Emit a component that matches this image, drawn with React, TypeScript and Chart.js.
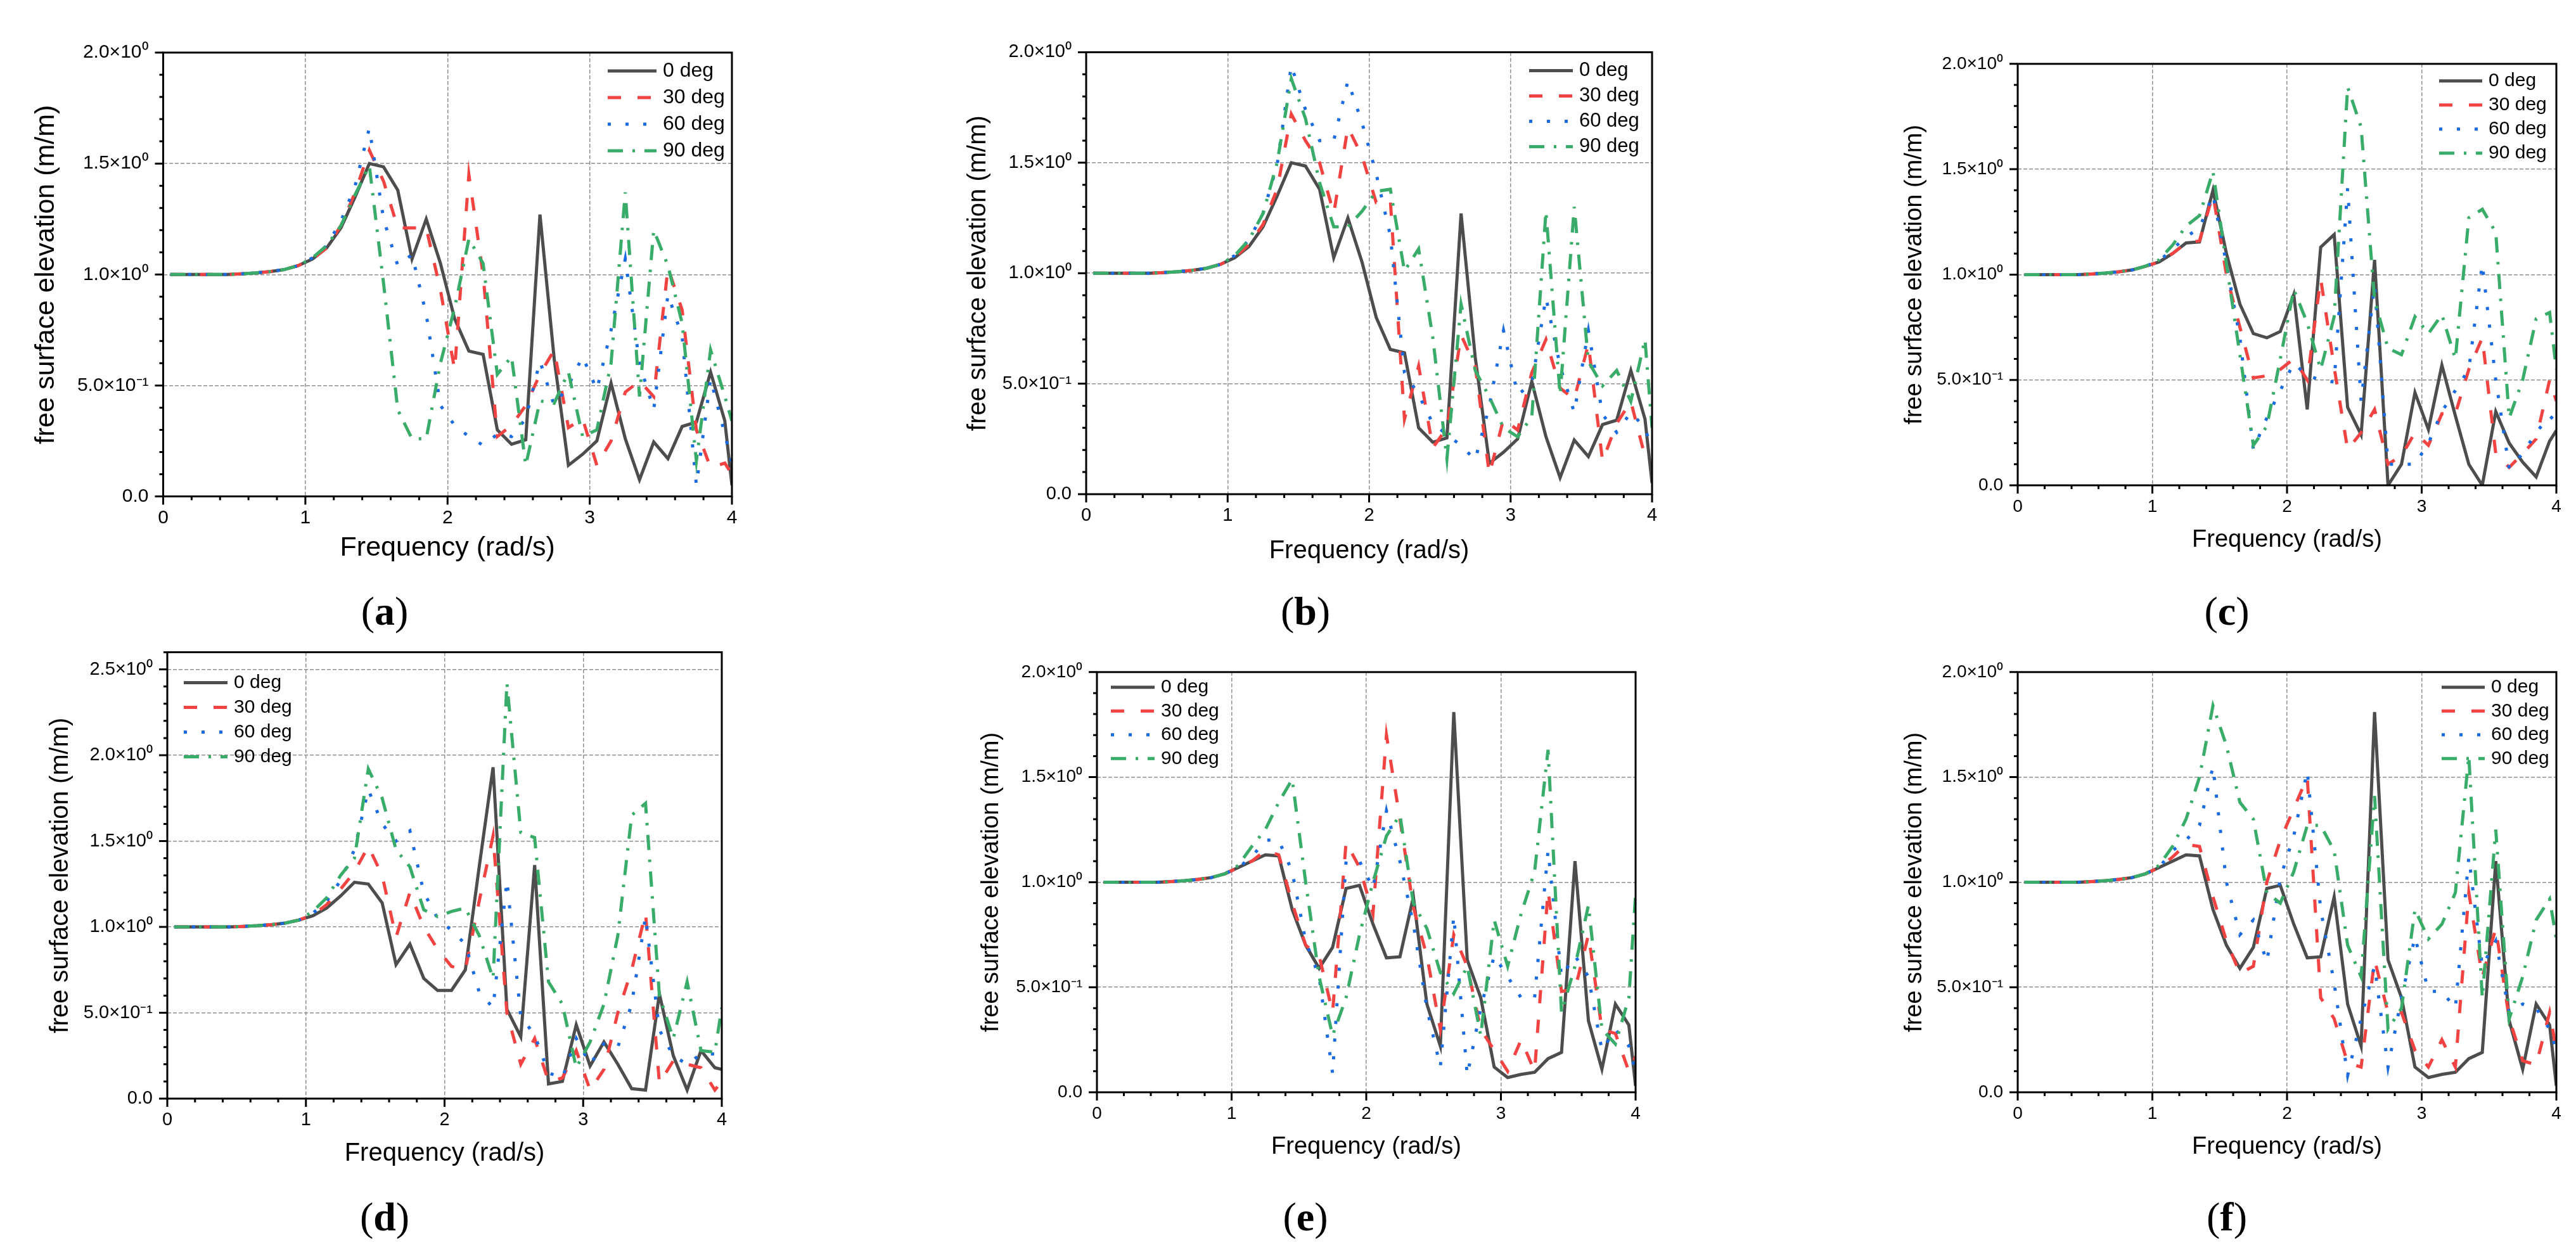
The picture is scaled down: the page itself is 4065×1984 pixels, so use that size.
import React, { useEffect, useRef } from "react";
import { Chart, registerables } from "chart.js";

Chart.register(...registerables);

// frequency samples (rad/s), shared by every panel
const freq = [
  0.05, 0.15, 0.25, 0.35, 0.45, 0.55, 0.65, 0.75, 0.85, 0.95,
  1.05, 1.15, 1.25, 1.35, 1.45, 1.55, 1.65, 1.75, 1.85, 1.95,
  2.05, 2.15, 2.25, 2.35, 2.45, 2.55, 2.65, 2.75, 2.85, 2.95,
  3.05, 3.15, 3.25, 3.35, 3.45, 3.55, 3.65, 3.75, 3.85, 3.95,
  4.0,
];

const seriesLabels = ["0 deg", "30 deg", "60 deg", "90 deg"];

const xTicks = [0, 1, 2, 3, 4];
const xTickLabels = ["0", "1", "2", "3", "4"];
const yTicks = [0, 0.5, 1, 1.5, 2];
const yTickLabels = ["0.0", "5.0×10⁻¹", "1.0×10⁰", "1.5×10⁰", "2.0×10⁰"];
const yTicksD = [0, 0.5, 1, 1.5, 2, 2.5];
const yTickLabelsD = ["0.0", "5.0×10⁻¹", "1.0×10⁰", "1.5×10⁰", "2.0×10⁰", "2.5×10⁰"];

// (a) and (b) share the 0 deg curve
const abDeg0 = [1, 1, 1, 1, 1, 1.003, 1.007, 1.013, 1.022, 1.04,
  1.07, 1.12, 1.21, 1.35, 1.5, 1.485, 1.38, 1.07, 1.25, 1.05,
  0.8, 0.655, 0.64, 0.3, 0.235, 0.255, 1.27, 0.62, 0.14, 0.19,
  0.25, 0.51, 0.26, 0.075, 0.245, 0.17, 0.315, 0.335, 0.56, 0.34, 0.05];
const a30 = [1, 1, 1, 1, 1, 1.003, 1.007, 1.013, 1.022, 1.04,
  1.07, 1.12, 1.22, 1.37, 1.56, 1.42, 1.21, 1.21, 1.21, 0.93,
  0.57, 1.45, 1.0, 0.27, 0.32, 0.41, 0.55, 0.66, 0.31, 0.35,
  0.14, 0.25, 0.47, 0.52, 0.45, 1.03, 0.84, 0.3, 0.13, 0.15, 0.1];
const a60 = [1, 1, 1, 1, 1, 1.003, 1.007, 1.013, 1.022, 1.04,
  1.075, 1.13, 1.24, 1.4, 1.66, 1.25, 1.04, 1.09, 0.82, 0.41,
  0.32, 0.27, 0.23, 0.28, 0.27, 0.35, 0.61, 0.41, 0.5, 0.63,
  0.48, 0.75, 1.07, 0.6, 0.39, 0.91, 0.72, 0.05, 0.53, 0.28, 0.15];
const a90 = [1, 1, 1, 1, 1, 1.003, 1.007, 1.013, 1.022, 1.04,
  1.075, 1.13, 1.22, 1.36, 1.49, 0.96, 0.39, 0.26, 0.26, 0.6,
  0.85, 1.16, 1.05, 0.55, 0.63, 0.14, 0.43, 0.42, 0.56, 0.27,
  0.3, 0.6, 1.37, 0.45, 1.2, 1.04, 0.78, 0.16, 0.66, 0.45, 0.34];

const b30 = [1, 1, 1, 1, 1, 1.003, 1.007, 1.013, 1.022, 1.04,
  1.07, 1.13, 1.22, 1.38, 1.72, 1.6, 1.5, 1.27, 1.66, 1.53,
  1.32, 1.33, 0.34, 0.58, 0.21, 0.3, 0.72, 0.58, 0.09, 0.34,
  0.29, 0.55, 0.7, 0.48, 0.43, 0.68, 0.15, 0.32, 0.42, 0.17, 0.15];
const b60 = [1, 1, 1, 1, 1, 1.003, 1.007, 1.013, 1.022, 1.04,
  1.08, 1.15, 1.27, 1.49, 1.94, 1.74, 1.6, 1.6, 1.87, 1.68,
  1.45, 1.17, 0.55, 0.45, 0.32, 0.27, 0.22, 0.155, 0.4, 0.74,
  0.45, 0.5, 0.89, 0.58, 0.37, 0.74, 0.36, 0.28, 0.37, 0.3, 0.2];
const b90 = [1, 1, 1, 1, 1, 1.003, 1.007, 1.013, 1.022, 1.04,
  1.08, 1.15, 1.27, 1.5, 1.88, 1.7, 1.41, 1.21, 1.21, 1.28,
  1.37, 1.38, 1.01, 1.11, 0.71, 0.16, 0.86, 0.56, 0.44, 0.3,
  0.26, 0.35, 1.28, 0.45, 1.3, 0.6, 0.49, 0.56, 0.42, 0.7, 0.3];

const c0 = [1, 1, 1, 1, 1, 1.003, 1.007, 1.013, 1.022, 1.04,
  1.06, 1.1, 1.15, 1.155, 1.4, 1.1, 0.86, 0.72, 0.7, 0.73,
  0.905, 0.36, 1.13, 1.19, 0.37, 0.24, 1.07, 0.0, 0.1, 0.44,
  0.265, 0.57, 0.33, 0.1, 0.0, 0.35, 0.2, 0.11, 0.04, 0.21, 0.26];
const c30 = [1, 1, 1, 1, 1, 1.003, 1.007, 1.013, 1.022, 1.04,
  1.06, 1.1, 1.15, 1.16, 1.38, 1.0, 0.75, 0.51, 0.52, 0.55,
  0.6, 0.5, 0.98, 0.56, 0.17, 0.25, 0.36, 0.1, 0.14, 0.25,
  0.19, 0.34, 0.34, 0.55, 0.7, 0.15, 0.085, 0.15, 0.22, 0.5, 0.4];
const c60 = [1, 1, 1, 1, 1, 1.003, 1.007, 1.013, 1.022, 1.04,
  1.065, 1.12, 1.18, 1.22, 1.38, 1.05, 0.7, 0.17, 0.32, 0.45,
  0.58, 0.52, 0.5, 0.49, 1.41, 0.4, 0.95, 0.1, 0.1, 0.1,
  0.2, 0.35, 0.45, 0.55, 1.05, 0.5, 0.08, 0.15, 0.25, 0.33, 0.3];
const c90 = [1, 1, 1, 1, 1, 1.003, 1.007, 1.013, 1.022, 1.04,
  1.07, 1.14, 1.23, 1.28, 1.49, 1.05, 0.62, 0.19, 0.28, 0.6,
  0.93, 0.77, 0.55, 0.8, 1.89, 1.7, 0.88, 0.65, 0.62, 0.8,
  0.72, 0.81, 0.6, 1.27, 1.31, 1.2, 0.32, 0.5, 0.79, 0.82, 0.55];

const d0 = [1, 1, 1, 1, 1, 1.003, 1.007, 1.013, 1.022, 1.04,
  1.065, 1.11, 1.18, 1.26, 1.25, 1.14, 0.78, 0.9, 0.7, 0.63,
  0.63, 0.75, 1.35, 1.93, 0.52, 0.36, 1.36, 0.086, 0.1, 0.43,
  0.19, 0.33, 0.2, 0.058, 0.05, 0.61, 0.25, 0.05, 0.28, 0.18, 0.17];
const d30 = [1, 1, 1, 1, 1, 1.003, 1.007, 1.013, 1.022, 1.04,
  1.07, 1.13, 1.22, 1.32, 1.47, 1.3, 0.94, 1.2, 1.0, 0.87,
  0.77, 0.75, 1.15, 1.53, 0.5, 0.2, 0.35, 0.1, 0.12, 0.28,
  0.05, 0.17, 0.5, 0.75, 1.08, 0.09, 0.22, 0.2, 0.18, 0.05, 0.1];
const d60 = [1, 1, 1, 1, 1, 1.003, 1.007, 1.013, 1.022, 1.04,
  1.08, 1.15, 1.27, 1.45, 1.8, 1.6, 1.5, 1.56, 1.2, 1.05,
  0.98, 0.9, 0.62, 0.53, 1.27, 0.48, 0.37, 0.15, 0.12, 0.35,
  0.2, 0.32, 0.3, 0.55, 1.06, 0.4, 0.25, 0.2, 0.26, 0.26, 0.25];
const d90 = [1, 1, 1, 1, 1, 1.003, 1.007, 1.013, 1.022, 1.04,
  1.09, 1.17, 1.3, 1.4, 1.92, 1.75, 1.45, 1.35, 1.1, 1.06,
  1.09, 1.11, 0.95, 0.7, 2.42, 1.55, 1.52, 0.68, 0.55, 0.18,
  0.33, 0.55, 0.95, 1.65, 1.72, 0.6, 0.35, 0.68, 0.28, 0.27, 0.53];

// (e) and (f) share the 0 deg curve
const efDeg0 = [1, 1, 1, 1, 1, 1.003, 1.007, 1.013, 1.022, 1.04,
  1.07, 1.1, 1.13, 1.125, 0.87, 0.7, 0.59, 0.69, 0.97, 0.985,
  0.8, 0.64, 0.645, 0.93, 0.42, 0.22, 1.81, 0.63, 0.45, 0.12,
  0.07, 0.085, 0.095, 0.16, 0.19, 1.1, 0.34, 0.11, 0.42, 0.32, 0.03];
const e30 = [1, 1, 1, 1, 1, 1.003, 1.007, 1.013, 1.022, 1.04,
  1.07, 1.1, 1.15, 1.13, 0.9, 0.7, 0.65, 0.38, 1.19, 1.07,
  0.85, 1.7, 1.3, 0.88, 0.65, 0.3, 0.75, 0.6, 0.3, 0.2,
  0.1, 0.25, 0.1, 0.96, 0.48, 0.49, 0.75, 0.3, 0.28, 0.1, 0.17];
const e60 = [1, 1, 1, 1, 1, 1.003, 1.007, 1.013, 1.022, 1.04,
  1.07, 1.12, 1.2, 1.2, 1.05, 0.72, 0.55, 0.09, 1.1, 1.1,
  0.97, 1.34, 1.1, 0.8, 0.4, 0.12, 0.84, 0.08, 0.4, 0.65,
  0.55, 0.45, 0.45, 1.15, 0.55, 0.65, 0.55, 0.2, 0.3, 0.22, 0.1];
const e90 = [1, 1, 1, 1, 1, 1.003, 1.007, 1.013, 1.022, 1.04,
  1.08, 1.17, 1.25, 1.38, 1.49, 1.0, 0.55, 0.27, 0.45, 0.75,
  1.0, 1.22, 1.32, 0.9, 0.78, 0.57, 0.47, 0.6, 0.27, 0.82,
  0.6, 0.85, 1.05, 1.63, 0.38, 0.6, 0.89, 0.3, 0.23, 0.45, 0.94];

const f30 = [1, 1, 1, 1, 1, 1.003, 1.007, 1.013, 1.022, 1.04,
  1.07, 1.12, 1.18, 1.17, 0.93, 0.72, 0.565, 0.6, 1.0, 1.2,
  1.35, 1.5, 0.45, 0.35, 0.14, 0.12, 0.63, 0.38, 0.38, 0.2,
  0.12, 0.25, 0.12, 0.95, 0.55, 0.78, 0.35, 0.15, 0.13, 0.38, 0.2];
const f60 = [1, 1, 1, 1, 1, 1.003, 1.007, 1.013, 1.022, 1.04,
  1.07, 1.15, 1.2, 1.27, 1.55, 1.0, 0.75, 0.82, 0.62, 1.02,
  1.22, 1.53, 0.87, 0.52, 0.08, 0.35, 0.6, 0.12, 0.45, 0.74,
  0.48, 0.48, 0.4, 1.12, 0.6, 0.72, 0.38, 0.42, 0.4, 0.3, 0.2];
const f90 = [1, 1, 1, 1, 1, 1.003, 1.007, 1.013, 1.022, 1.04,
  1.08, 1.17, 1.3, 1.5, 1.84, 1.65, 1.38, 1.3, 0.95, 0.9,
  1.05, 1.27, 1.27, 1.15, 0.7, 0.55, 1.41, 0.3, 0.4, 0.87,
  0.73, 0.8, 0.95, 1.6, 0.45, 1.25, 0.35, 0.55, 0.82, 0.92, 0.73];

const COLORS = ["#4d4d4d", "#f24343", "#1a6be0", "#38ac68"];
const LINE_DASH = [[], [21, 26], [5, 23], [24, 15, 4, 15]];
const LINE_W = 5;
const SANS = '"Liberation Sans", Arial, Helvetica, sans-serif';

const PAD_T = 30;
const PAD_R = 30;

const panels = [
  { tag: "a", series: [abDeg0, a30, a60, a90], yMax: 2, yT: yTicks, yL: yTickLabels,
    L: 257, T: 72, R: 1154, B: 783, yTitleX: 73, xTitleY: 865, titleSize: 43, tickSize: 30,
    legend: { side: "right", dx: 196, dy: 29, gap: 42, len: 77, size: 32 }, tx: 607, ty: 965 },
  { tag: "b", series: [abDeg0, b30, b60, b90], yMax: 2, yT: yTicks, yL: yTickLabels,
    L: 1714, T: 72, R: 2607, B: 780, yTitleX: 1544, xTitleY: 870, titleSize: 40, tickSize: 29,
    legend: { side: "right", dx: 194, dy: 29, gap: 40, len: 69, size: 31 }, tx: 2060, ty: 965 },
  { tag: "c", series: [c0, c30, c60, c90], yMax: 2, yT: yTicks, yL: yTickLabels,
    L: 3184, T: 91, R: 4034, B: 766, yTitleX: 3022, xTitleY: 853, titleSize: 38, tickSize: 28,
    legend: { side: "right", dx: 185, dy: 27, gap: 38, len: 68, size: 30 }, tx: 3514, ty: 965 },
  { tag: "d", series: [d0, d30, d60, d90], yMax: 2.6, yT: yTicksD, yL: yTickLabelsD,
    L: 264, T: 1019, R: 1139, B: 1734, yTitleX: 96, xTitleY: 1821, titleSize: 40, tickSize: 29,
    legend: { side: "left", dx: 26, dy: 48, gap: 39, len: 69, size: 30 }, tx: 607, ty: 1921 },
  { tag: "e", series: [efDeg0, e30, e60, e90], yMax: 2, yT: yTicks, yL: yTickLabels,
    L: 1731, T: 1051, R: 2581, B: 1724, yTitleX: 1565, xTitleY: 1811, titleSize: 38, tickSize: 28,
    legend: { side: "left", dx: 22, dy: 24, gap: 37.5, len: 69, size: 30 }, tx: 2060, ty: 1921 },
  { tag: "f", series: [efDeg0, f30, f60, f90], yMax: 2, yT: yTicks, yL: yTickLabels,
    L: 3184, T: 1051, R: 4034, B: 1724, yTitleX: 3022, xTitleY: 1811, titleSize: 38, tickSize: 28,
    legend: { side: "right", dx: 181, dy: 24, gap: 37.5, len: 68, size: 30 }, tx: 3514, ty: 1921 },
];

// frame, outward tick marks and the in-plot legend
const decoPlugin = {
  id: "deco",
  afterDraw(chart: any, _args: any, opts: any) {
    const { ctx, chartArea: a, scales } = chart;
    const xs = scales.x;
    const ys = scales.y;
    ctx.save();
    ctx.strokeStyle = "#000";
    ctx.lineWidth = 3;
    ctx.setLineDash([]);
    ctx.beginPath();
    for (let i = 0; i <= 20; i++) {
      const px = xs.getPixelForValue(i * 0.2);
      ctx.moveTo(px, a.bottom);
      ctx.lineTo(px, a.bottom + (i % 5 === 0 ? 13 : 6));
    }
    const n = Math.floor(ys.max * 10 + 1e-6);
    for (let i = 0; i <= n; i++) {
      const py = ys.getPixelForValue(i * 0.1);
      ctx.moveTo(a.left, py);
      ctx.lineTo(a.left - (i % 5 === 0 ? 13 : 6), py);
    }
    ctx.stroke();
    ctx.strokeRect(a.left, a.top, a.right - a.left, a.bottom - a.top);

    const lg = opts.legend;
    chart.data.datasets.forEach((ds: any, i: number) => {
      const y = a.top + lg.dy + i * lg.gap;
      const x0 = lg.side === "right" ? a.right - lg.dx : a.left + lg.dx;
      ctx.beginPath();
      ctx.setLineDash(LINE_DASH[i]);
      ctx.lineWidth = LINE_W;
      ctx.lineCap = "butt";
      ctx.strokeStyle = ds.borderColor;
      ctx.moveTo(x0, y);
      ctx.lineTo(x0 + lg.len, y);
      ctx.stroke();
      ctx.setLineDash([]);
      ctx.fillStyle = "#000";
      ctx.font = `${lg.size}px ${SANS}`;
      ctx.textAlign = "left";
      ctx.textBaseline = "middle";
      ctx.fillText(ds.label, x0 + lg.len + 10, y);
    });
    ctx.restore();
  },
};

function Panel({ p }: { p: any }) {
  const ref = useRef<HTMLCanvasElement | null>(null);
  const yW = p.L - p.yTitleX + p.titleSize / 2;
  const xH = p.xTitleY - p.B + p.titleSize / 2;
  const left = p.L - yW;
  const top = p.T - PAD_T;
  const width = Math.round(yW + (p.R - p.L) + PAD_R);
  const height = Math.round(PAD_T + (p.B - p.T) + xH);

  useEffect(() => {
    if (!ref.current) return;
    const tickFont = { family: SANS, size: p.tickSize };
    const titleFont = { family: SANS, size: p.titleSize, lineHeight: 1 };
    const chart = new Chart(ref.current, {
      type: "line",
      data: {
        datasets: p.series.map((s: number[], i: number) => ({
          label: seriesLabels[i],
          data: freq.map((f, k) => ({ x: f, y: s[k] })),
          borderColor: COLORS[i],
          backgroundColor: COLORS[i],
          borderWidth: LINE_W,
          borderDash: LINE_DASH[i],
          borderCapStyle: "butt",
          pointRadius: 0,
          tension: 0,
          fill: false,
          order: 3 - i,
        })),
      },
      options: {
        responsive: false,
        animation: false,
        devicePixelRatio: 1,
        layout: { padding: { top: PAD_T, right: PAD_R, left: 0, bottom: 0 } },
        plugins: {
          legend: { display: false },
          tooltip: { enabled: false },
          deco: { legend: p.legend },
        } as any,
        scales: {
          x: {
            type: "linear",
            min: 0,
            max: 4,
            afterBuildTicks: (s: any) => {
              s.ticks = xTicks.map((v) => ({ value: v }));
            },
            afterFit: (s: any) => {
              s.height = xH;
            },
            ticks: {
              font: tickFont,
              color: "#000",
              padding: 34 - p.tickSize * 0.6,
              maxRotation: 0,
              autoSkip: false,
              callback: (v: any) => xTickLabels[xTicks.indexOf(Number(v))] ?? "",
            },
            grid: {
              drawTicks: false,
              lineWidth: 1.5,
              color: (c: any) =>
                c.tick && (c.tick.value === 0 || c.tick.value === 4) ? "rgba(0,0,0,0)" : "#8f8f8f",
            },
            border: { display: false, dash: [6, 3] },
            title: { display: true, text: "Frequency (rad/s)", font: titleFont, color: "#000", padding: 0 },
          },
          y: {
            type: "linear",
            min: 0,
            max: p.yMax,
            afterBuildTicks: (s: any) => {
              s.ticks = p.yT.map((v: number) => ({ value: v }));
            },
            afterFit: (s: any) => {
              s.width = yW;
            },
            ticks: {
              font: tickFont,
              color: "#000",
              padding: 23,
              autoSkip: false,
              callback: (v: any) => p.yL[p.yT.indexOf(Number(v))] ?? "",
            },
            grid: {
              drawTicks: false,
              lineWidth: 1.5,
              color: (c: any) =>
                c.tick && (c.tick.value === 0 || c.tick.value >= p.yMax) ? "rgba(0,0,0,0)" : "#8f8f8f",
            },
            border: { display: false, dash: [6, 3] },
            title: {
              display: true,
              text: "free surface elevation (m/m)",
              font: titleFont,
              color: "#000",
              padding: 0,
            },
          },
        },
      } as any,
      plugins: [decoPlugin],
    });
    return () => {
      chart.destroy();
    };
  }, []);

  return (
    <canvas
      ref={ref}
      width={width}
      height={height}
      style={{ position: "absolute", left, top, width, height }}
    />
  );
}

export default function App() {
  return (
    <div
      style={{
        position: "fixed",
        left: 0,
        top: 0,
        width: 4065,
        height: 1984,
        overflow: "hidden",
        background: "#fff",
      }}
    >
      {panels.map((p) => (
        <Panel key={p.tag} p={p} />
      ))}
      {panels.map((p) => (
        <div
          key={"t" + p.tag}
          style={{
            position: "absolute",
            left: p.tx,
            top: p.ty,
            transform: "translate(-50%, -50%)",
            fontFamily: '"Liberation Serif", "Times New Roman", serif',
            fontSize: 64,
            lineHeight: 1,
            color: "#000",
            whiteSpace: "nowrap",
          }}
        >
          (<b>{p.tag}</b>)
        </div>
      ))}
    </div>
  );
}
